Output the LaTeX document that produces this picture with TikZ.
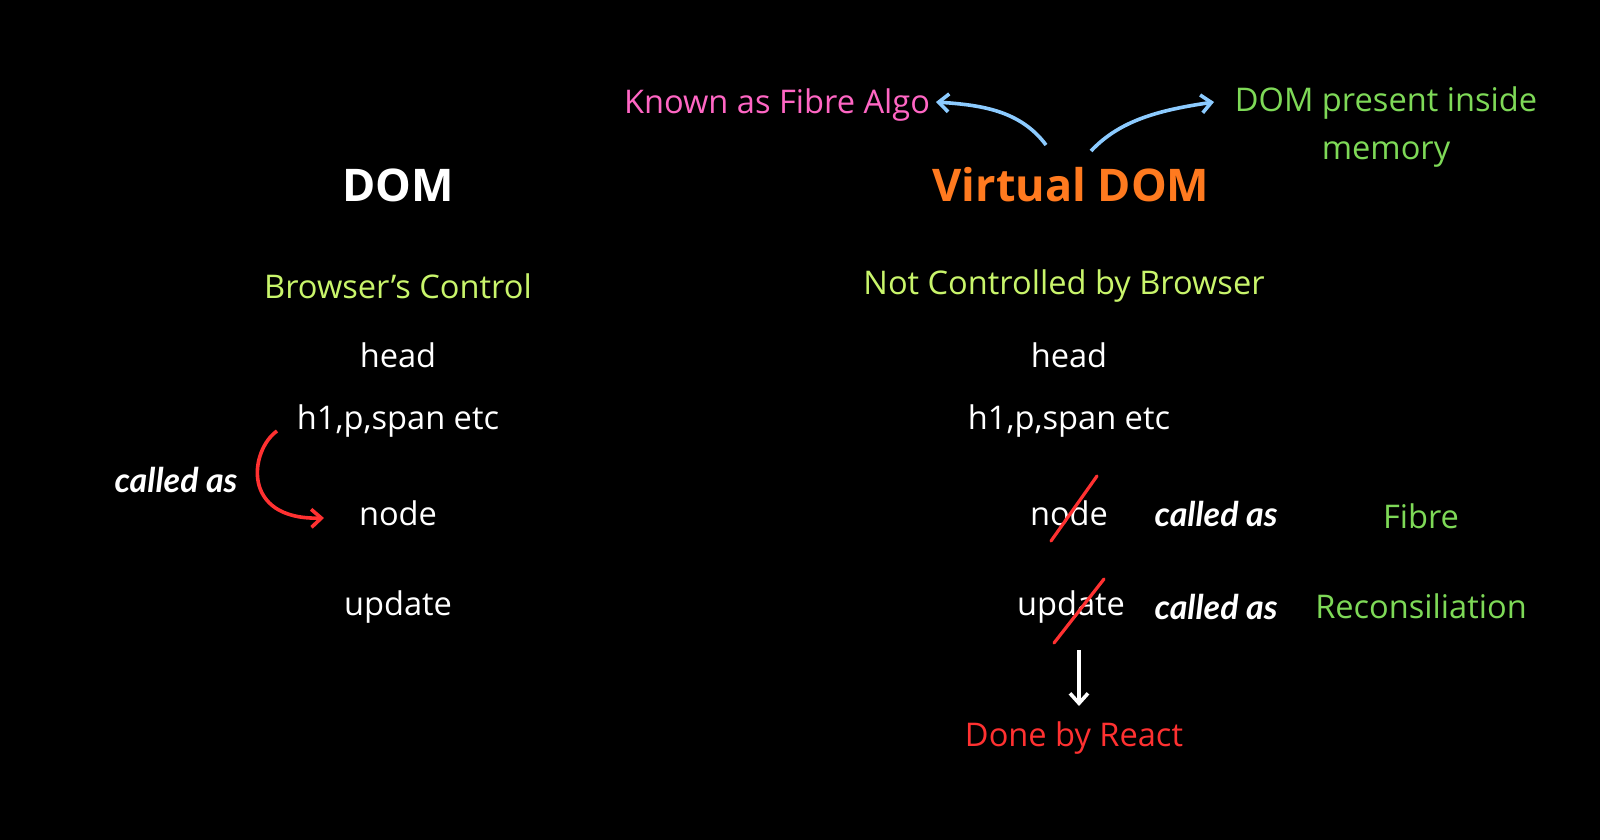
\documentclass[tikz,border=0pt]{standalone}
\usepackage{fontspec}
\setmainfont{Open Sans}
\newfontfamily\scriptf{Lato}
\usetikzlibrary{arrows.meta}
\definecolor{lime}{HTML}{C9F56B}
\definecolor{fgreen}{HTML}{7ED957}
\definecolor{vorange}{HTML}{FF7A1F}
\definecolor{rred}{HTML}{FF3131}
\definecolor{ppink}{HTML}{FF66C4}
\definecolor{lblue}{HTML}{8CCBFF}
\begin{document}
\begin{tikzpicture}[x=0.5pt,y=-0.5pt,
  txt/.style={text=white,font=\fontsize{16.3}{19}\selectfont,inner sep=0},
  ttl/.style={font=\fontsize{22.5}{26}\selectfont\bfseries,inner sep=0},
  grn/.style={txt,text=lime},
  fgr/.style={txt,text=fgreen},
  called/.style={text=white,font=\scriptf\fontsize{17}{19}\selectfont\bfseries\itshape,inner sep=0},
  strike/.style={rred,line width=1.6pt,line cap=round},
  arr/.style={line width=1.8pt,-{Straight Barb[length=5pt,width=9pt]}}]
\fill[black] (0,0) rectangle (1600,840);
\useasboundingbox (0,0) rectangle (1600,840);
\node[ttl,text=white] (dom) at (398,185) {DOM};
\node[ttl,text=vorange] (vdom) at (1071,185) {Virtual DOM};
\node[grn] (bc) at (398,286) {Browser’s Control};
\node[grn] (nc) at (1064,286) {Not Controlled by Browser};
\node[txt] (h1) at (398,355) {head};
\node[txt] (h2) at (1069,355) {head};
\node[txt] (s1) at (398,421) {h1,p,span etc};
\node[txt] (s2) at (1069,421) {h1,p,span etc};
\node[txt] (n1) at (398,513) {node};
\node[txt] (n2) at (1069,513) {node};
\node[txt] (u1) at (398,607) {update};
\node[txt] (u2) at (1071,607) {update};
\node[called] (c1) at (176,480) {called as};
\node[called] (c2) at (1216,514) {called as};
\node[called] (c3) at (1216,607) {called as};
\node[fgr] (fib) at (1421,516) {Fibre};
\node[fgr] (rec) at (1421,606) {Reconsiliation};
\node[txt,text=rred] (done) at (1074,738) {Done by React};
\node[txt,text=ppink] (known) at (777,105) {Known as Fibre Algo};
\node[fgr,align=center] (mem) at (1386,127) {DOM present inside\\[5pt]memory};
\coordinate (ca) at (277,431);
\coordinate (cb) at (324,518);
\draw[arr,rred] (ca) .. controls (250,450) and (240,520) .. (cb);
\draw[strike] (1051,541) -- (1097,476);
\draw[strike] (1054,643) -- (1104,579);
\coordinate (da) at (1079,650);
\coordinate (db) at (1079,706);
\draw[arr,white] (da) -- (db);
\coordinate (ba) at (1046,145);
\coordinate (bb) at (936,102);
\draw[arr,lblue] (ba) .. controls (1020,110) and (980,105) .. (bb);
\coordinate (bc2) at (1091,151);
\coordinate (bd) at (1214,102);
\draw[arr,lblue] (bc2) .. controls (1120,120) and (1160,110) .. (bd);
\end{tikzpicture}
\end{document}
